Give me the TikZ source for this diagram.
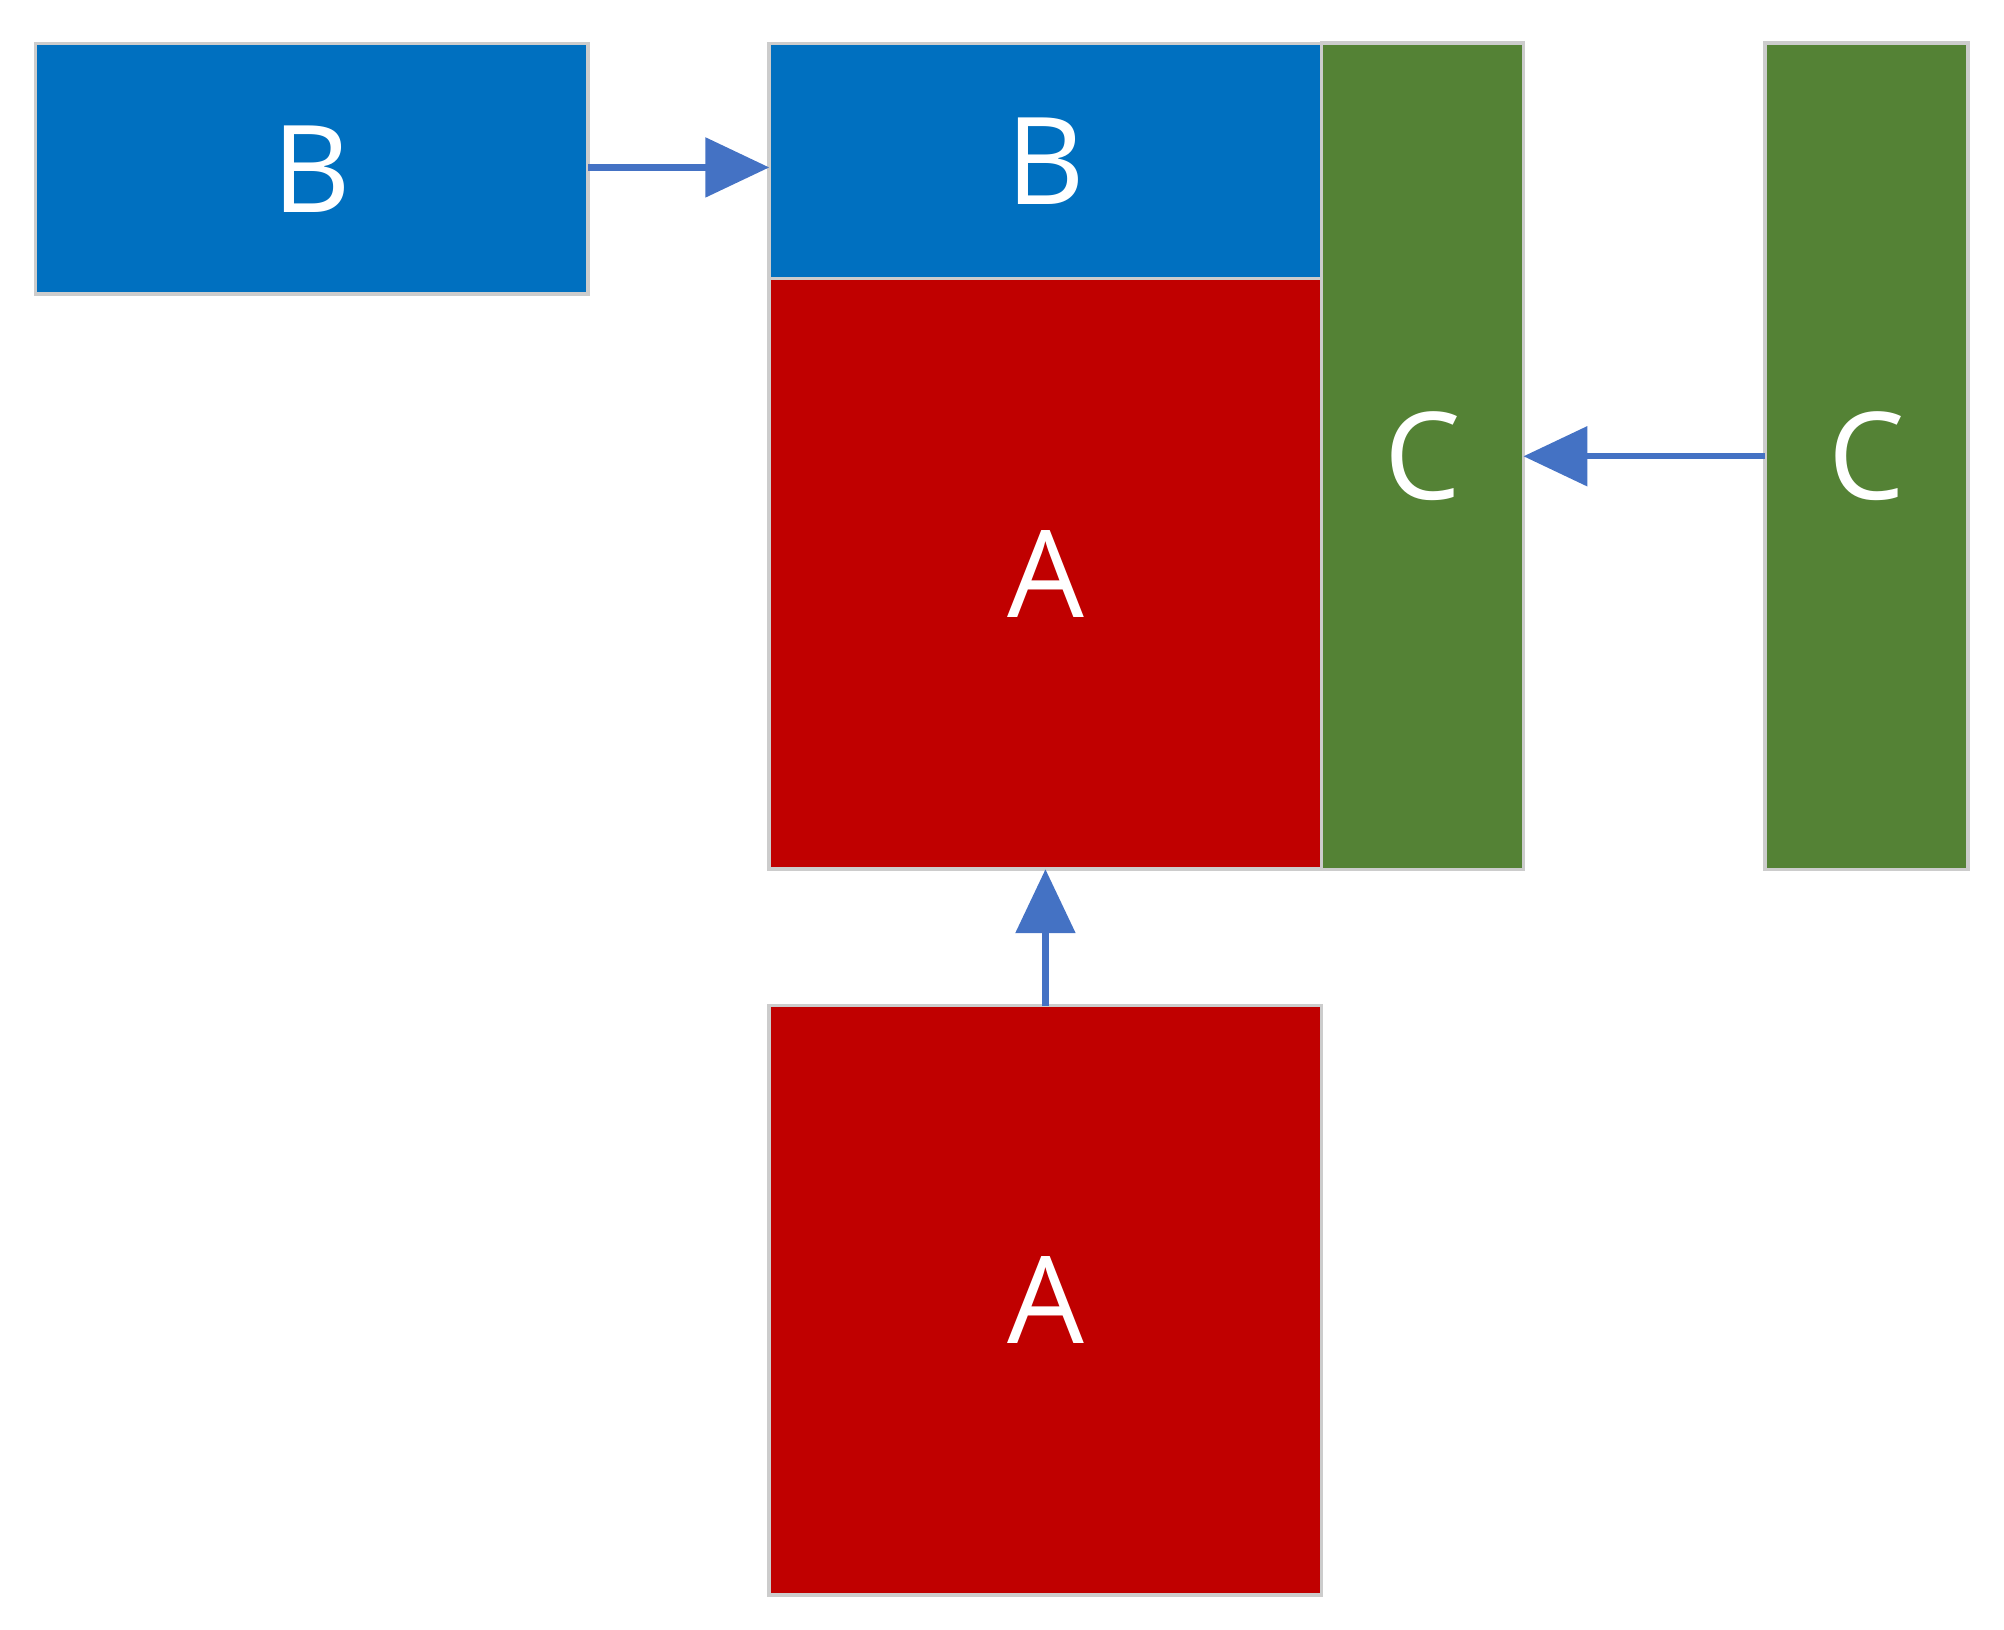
\documentclass[tikz,border=0pt]{standalone}
\usepackage{fontspec}
\setmainfont{Open Sans}
\usetikzlibrary{arrows.meta}
\definecolor{cblue}{HTML}{0070C0}
\definecolor{cred}{HTML}{C00000}
\definecolor{cgreen}{HTML}{548235}
\definecolor{carrow}{HTML}{4472C4}
\begin{document}
\begin{tikzpicture}[x=0.01cm,y=-0.01cm,
  blk/.style={draw=black!20,line width=0.8pt,text=white,font=\fontsize{27}{30}\selectfont,inner sep=0pt,outer sep=0pt},
  conn/.style={draw=carrow,line width=1.4pt,-{Triangle[length=0.5cm,width=0.46cm]}}]
\useasboundingbox (0,0) rectangle (1568,1275);
\node[blk,fill=cblue,minimum width=4.32cm,minimum height=1.96cm] (bl) at (244,132) {B};
\node[blk,fill=cblue,minimum width=4.32cm,minimum height=1.84cm] (bt) at (818,126) {B};
\node[blk,fill=cred,minimum width=4.32cm,minimum height=4.62cm] (at) at (818,449) {A};
\node[blk,fill=cgreen,minimum width=1.58cm,minimum height=6.46cm] (cm) at (1113,357) {C};
\node[blk,fill=cgreen,minimum width=1.59cm,minimum height=6.46cm] (cr) at (1460.5,357) {C};
\node[blk,fill=cred,minimum width=4.32cm,minimum height=4.61cm] (ab) at (818,1017.5) {A};
\draw[conn] (bl.east |- 0,131) -- (bt.west |- 0,131);
\draw[conn] (cr.west) -- (cm.east);
\draw[conn] (ab.north) -- (at.south);
\end{tikzpicture}
\end{document}
